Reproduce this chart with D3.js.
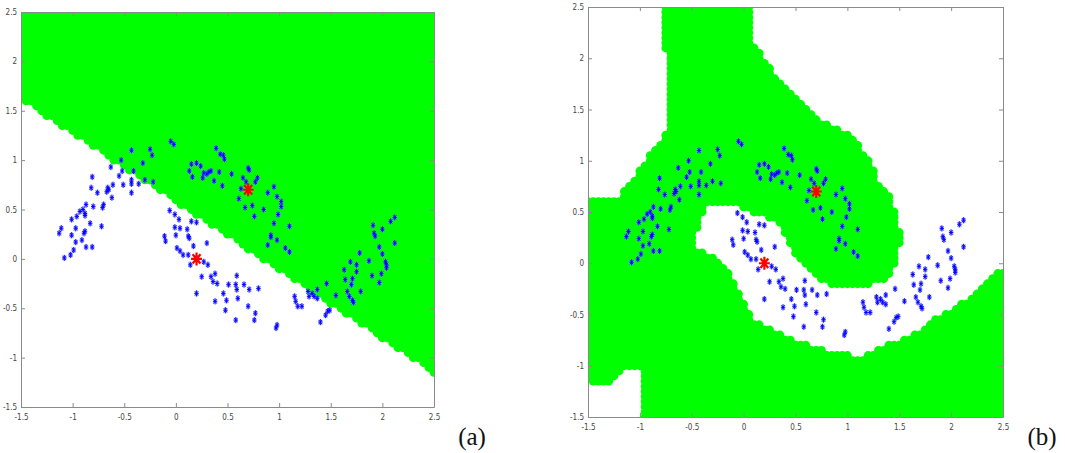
<!DOCTYPE html>
<html>
<head>
<meta charset="utf-8">
<script src="https://cdn.jsdelivr.net/npm/d3@7"></script>
<style>
  body { margin: 0; background: #fff; }
  .tick text { font-family: "Liberation Sans Narrow", "DejaVu Sans Condensed", sans-serif; font-size: 8px; fill: #444; }
  .panel-label { font-family: "Liberation Serif", "DejaVu Serif", serif; font-size: 25px; fill: #111; }
</style>
</head>
<body>
<svg id="chart" width="1065" height="453"></svg>
<script>
// axis ticks shared by both panels
const tickValues = [-1.5, -1, -0.5, 0, 0.5, 1, 1.5, 2, 2.5];
const gridStep = 0.05;

// two moons
const moonUpper = [
  [-1.13,0.26],[-1.11,0.31],[-1.08,0.01],[-1.02,0.04],[-1.01,0.24],[-1.01,0.40],[-0.97,0.31],[-0.97,0.17],
  [-0.99,0.09],[-0.96,0.43],[-0.93,0.48],[-0.91,0.19],[-0.89,0.26],[-0.88,0.28],[-0.90,0.50],[-0.88,0.46],
  [-0.88,0.44],[-0.87,0.55],[-0.87,0.12],[-0.81,0.12],[-0.83,0.36],[-0.80,0.53],[-0.82,0.72],[-0.81,0.83],
  [-0.76,0.67],[-0.72,0.33],[-0.71,0.52],[-0.70,0.55],[-0.67,0.68],[-0.66,0.72],[-0.65,0.70],[-0.62,0.62],
  [-0.63,0.93],[-0.61,0.75],[-0.55,0.84],[-0.53,1.00],[-0.52,0.89],[-0.51,0.75],[-0.43,0.80],[-0.43,0.76],
  [-0.43,0.67],[-0.43,1.10],[-0.41,0.89],[-0.36,0.76],[-0.32,0.97],[-0.30,0.80],[-0.25,1.11],[-0.23,1.05],
  [-0.22,0.78],[-0.05,1.19],[-0.02,1.16],[0.15,0.96],[0.13,0.89],[0.16,0.83],[0.20,0.97],[0.24,0.94],
  [0.27,0.87],[0.26,0.82],[0.30,0.86],[0.32,0.88],[0.34,0.89],[0.37,0.79],[0.39,1.12],[0.43,1.06],
  [0.46,1.05],[0.47,1.01],[0.42,0.88],[0.45,0.74],[0.54,0.86],[0.61,0.61],[0.63,0.71],[0.65,0.82],
  [0.67,0.52],[0.68,0.78],[0.70,0.92],[0.71,0.90],[0.74,0.54],[0.76,0.43],[0.77,0.78],[0.79,0.82],
  [0.85,0.50],[0.89,0.67],[0.89,0.14],[0.92,0.24],[0.92,0.22],[0.95,0.36],[0.95,0.73],[0.98,0.63],
  [0.99,0.45],[1.02,0.58],[1.02,0.53],[0.98,0.19],[1.06,0.11],[1.10,0.33],[1.10,0.07]
];
const moonLower = [
  [-0.06,0.49],[-0.01,0.45],[0.03,0.40],[-0.01,0.32],[0.00,0.24],[0.04,0.31],[0.11,0.30],[0.15,0.38],
  [0.20,0.37],[-0.11,0.23],[-0.10,0.18],[0.01,0.11],[0.04,0.08],[0.07,0.04],[0.12,0.04],[0.12,0.23],
  [0.13,0.21],[0.14,-0.06],[0.17,0.13],[0.30,0.16],[0.27,-0.03],[0.31,-0.06],[0.25,-0.18],[0.34,-0.18],
  [0.38,-0.15],[0.36,-0.23],[0.40,-0.25],[0.20,-0.35],[0.38,-0.43],[0.46,-0.35],[0.49,-0.42],[0.48,-0.52],
  [0.51,-0.26],[0.58,-0.26],[0.59,-0.31],[0.59,-0.17],[0.60,-0.40],[0.58,-0.62],[0.66,-0.26],[0.71,-0.31],
  [0.70,-0.48],[0.77,-0.55],[0.76,-0.62],[0.80,-0.30],[0.98,-0.67],[0.97,-0.70],[1.15,-0.38],[1.16,-0.43],
  [1.18,-0.48],[1.22,-0.48],[1.28,-0.33],[1.29,-0.38],[1.32,-0.35],[1.34,-0.38],[1.37,-0.31],[1.37,-0.40],
  [1.40,-0.64],[1.45,-0.57],[1.47,-0.53],[1.49,-0.52],[1.46,-0.25],[1.55,-0.37],[1.63,-0.11],[1.64,-0.21],
  [1.66,-0.33],[1.68,-0.38],[1.70,-0.26],[1.71,-0.20],[1.71,-0.42],[1.72,-0.44],[1.69,-0.03],[1.75,-0.13],
  [1.75,-0.06],[1.78,0.06],[1.79,-0.33],[1.87,-0.02],[1.90,-0.17],[1.91,0.34],[1.92,0.26],[1.93,0.23],
  [1.97,0.12],[1.97,-0.24],[1.99,-0.15],[2.00,0.30],[2.00,0.05],[2.03,-0.03],[2.04,-0.06],[2.04,-0.09],
  [2.08,0.38],[2.12,0.42],[2.12,0.16]
];
const centers = [[0.7, 0.7], [0.2, 0.0]];

// (a) linear decision boundary, green above it
const boundaryA = [[-1.5, 1.62], [2.5, -1.15]];

// (b) white (non green) areas of the kernel decision region
const whiteTopLeft = [[-1.6,2.6],[-0.79,2.6],[-0.79,2.13],[-0.73,2.08],[-0.73,1.28],[-0.90,1.05],
  [-1.11,0.76],[-1.19,0.64],[-1.38,0.61],[-1.6,0.63]];
const whiteBottomLeft = [[-1.6,-1.6],[-1.6,-1.09],[-1.45,-1.15],[-1.25,-1.15],[-1.19,-1.06],[-1.13,-1.0],
  [-1.01,-1.0],[-0.99,-1.06],[-0.99,-1.39],[-0.96,-1.6]];
const whiteMain = [[0.067,2.6],[2.6,2.6],[2.6,-0.068],[2.45,-0.05],[2.38,-0.14],[2.28,-0.26],[2.16,-0.36],
  [2.0,-0.46],[1.83,-0.56],[1.68,-0.68],[1.51,-0.75],[1.35,-0.82],[1.20,-0.90],[1.03,-0.90],[0.87,-0.88],
  [0.71,-0.83],[0.55,-0.78],[0.39,-0.72],[0.23,-0.62],[0.10,-0.56],[0.02,-0.44],[-0.05,-0.26],[-0.13,-0.09],
  [-0.24,0.02],[-0.37,0.10],[-0.48,0.16],[-0.48,0.22],[-0.44,0.35],[-0.40,0.49],[-0.34,0.58],[-0.22,0.60],
  [-0.10,0.59],[0.0,0.55],[0.10,0.50],[0.23,0.45],[0.33,0.39],[0.39,0.29],[0.45,0.16],[0.52,0.06],
  [0.65,-0.07],[0.77,-0.17],[0.91,-0.23],[1.10,-0.24],[1.25,-0.20],[1.37,-0.14],[1.45,-0.04],[1.49,0.10],
  [1.51,0.22],[1.49,0.42],[1.45,0.55],[1.39,0.68],[1.29,0.81],[1.22,0.98],[1.16,1.07],[1.10,1.20],
  [1.00,1.27],[0.87,1.33],[0.74,1.40],[0.65,1.49],[0.55,1.59],[0.40,1.71],[0.31,1.83],[0.21,1.98],
  [0.13,2.11],[0.08,2.15]];

function inGreenA(p) {
  const [a, b] = boundaryA;
  const yLine = a[1] + (p[0] - a[0]) * (b[1] - a[1]) / (b[0] - a[0]);
  return p[1] >= yLine;
}
function inGreenB(p) {
  return ![whiteTopLeft, whiteBottomLeft, whiteMain].some(poly => d3.polygonContains(poly, p));
}

const panels = [
  { id: "a", label: "(a)", left: 21, right: 434, top: 12, bottom: 407, labelX: 472, green: inGreenA },
  { id: "b", label: "(b)", left: 588, right: 1003, top: 7, bottom: 417, labelX: 1042, green: inGreenB }
];

const svg = d3.select("#chart");
const gridX = d3.range(-1.5, 2.5 + 1e-9, gridStep);
const gridY = d3.range(-1.5, 2.5 + 1e-9, gridStep);

// MATLAB style '*' marker, a bit taller than wide
function starPath(sx, sy) {
  const kx = sx * 0.72, ky = sy * 0.72;
  return `M${-sx},0H${sx}M0,${-sy}V${sy}M${-kx},${-ky}L${kx},${ky}M${-kx},${ky}L${kx},${-ky}`;
}

panels.forEach(p => {
  const x = d3.scaleLinear().domain([-1.5, 2.5]).range([p.left, p.right]);
  const y = d3.scaleLinear().domain([-1.5, 2.5]).range([p.bottom, p.top]);
  const g = svg.append("g").attr("class", "panel-" + p.id);

  g.append("clipPath").attr("id", "clip-" + p.id)
    .append("rect")
    .attr("x", p.left).attr("y", p.top)
    .attr("width", p.right - p.left).attr("height", p.bottom - p.top);

  const cells = [];
  gridX.forEach(gx => gridY.forEach(gy => {
    if (p.green([gx, gy])) cells.push([gx, gy]);
  }));

  g.append("g").attr("clip-path", `url(#clip-${p.id})`)
    .selectAll("circle")
    .data(cells)
    .enter()
    .append("circle")
    .attr("cx", d => x(d[0]))
    .attr("cy", d => y(d[1]))
    .attr("r", 4.4)
    .attr("fill", "#00ff00");

  // axes with inward ticks, box on
  const fmt = d => String(d);
  g.append("g").attr("transform", `translate(0,${p.bottom})`)
    .call(d3.axisBottom(x).tickValues(tickValues).tickFormat(fmt).tickSize(-4).tickSizeOuter(0).tickPadding(7));
  g.append("g").attr("transform", `translate(${p.left},0)`)
    .call(d3.axisLeft(y).tickValues(tickValues).tickFormat(fmt).tickSize(-4).tickSizeOuter(0).tickPadding(4));
  g.append("g").attr("transform", `translate(0,${p.top})`)
    .call(d3.axisTop(x).tickValues(tickValues).tickFormat("").tickSize(-4).tickSizeOuter(0));
  g.append("g").attr("transform", `translate(${p.right},0)`)
    .call(d3.axisRight(y).tickValues(tickValues).tickFormat("").tickSize(-4).tickSizeOuter(0));
  g.selectAll(".domain, .tick line").attr("stroke", "#8a8a8a");

  const pts = moonUpper.concat(moonLower);
  const ptG = g.append("g");
  // soft halo like the blurred original markers
  ptG.selectAll("path.halo")
    .data(pts)
    .enter()
    .append("path")
    .attr("class", "halo")
    .attr("transform", d => `translate(${x(d[0])},${y(d[1])})`)
    .attr("d", starPath(2.2, 3.2))
    .attr("fill", "none")
    .attr("stroke", "#9da0ff")
    .attr("stroke-opacity", 0.55)
    .attr("stroke-width", 2.2);
  ptG.selectAll("path.pt")
    .data(pts)
    .enter()
    .append("path")
    .attr("class", "pt")
    .attr("transform", d => `translate(${x(d[0])},${y(d[1])})`)
    .attr("d", starPath(2.2, 3.0))
    .attr("fill", "none")
    .attr("stroke", "#0000ff")
    .attr("stroke-width", 0.9);

  g.append("g")
    .selectAll("path")
    .data(centers)
    .enter()
    .append("path")
    .attr("transform", d => `translate(${x(d[0])},${y(d[1])})`)
    .attr("d", starPath(5.5, 6.5))
    .attr("fill", "none")
    .attr("stroke", "#ff0000")
    .attr("stroke-width", 2.2);

  g.append("text")
    .attr("class", "panel-label")
    .attr("x", p.labelX)
    .attr("y", 445)
    .attr("text-anchor", "middle")
    .text(p.label);
});
</script>
</body>
</html>
